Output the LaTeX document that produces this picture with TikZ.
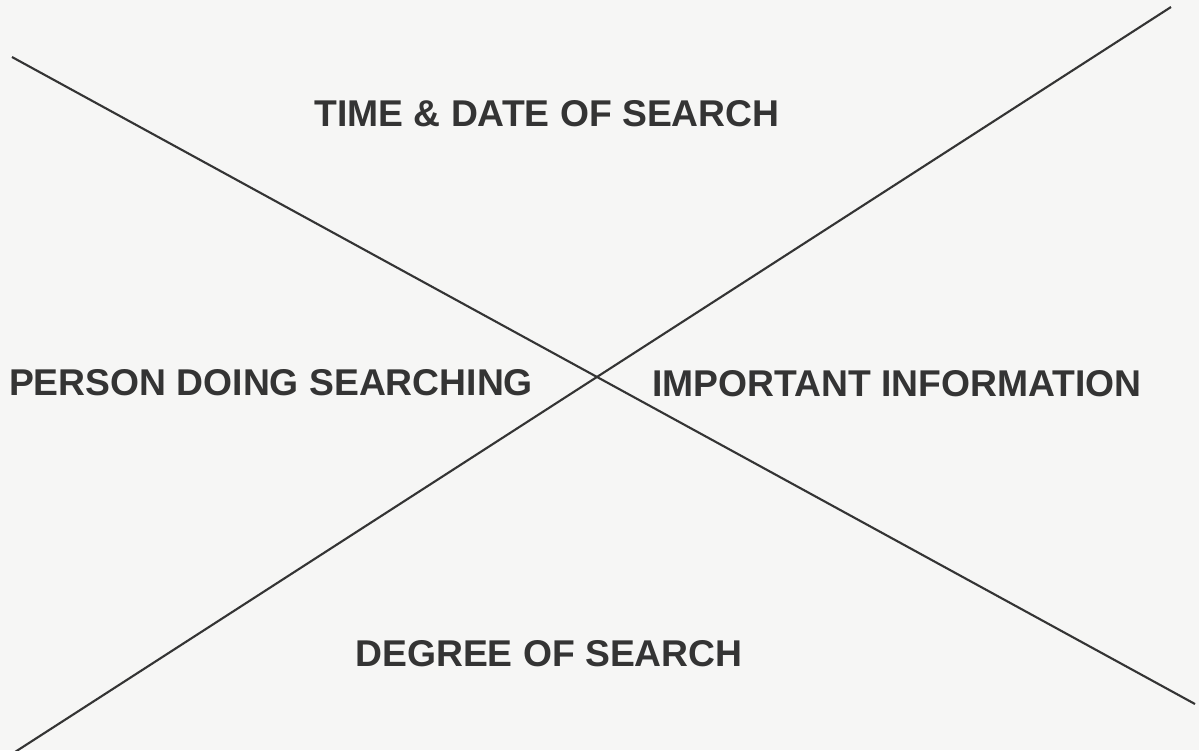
\documentclass[tikz,border=0pt]{standalone}
\usepackage{fontspec}
\setmainfont{Liberation Sans}
\usepackage{tikz}

\definecolor{paper}{RGB}{246,246,245}
\definecolor{ink}{RGB}{52,52,52}

\begin{document}
\begin{tikzpicture}[x=0.01cm,y=-0.01cm,
                    semithick]
  \tikzstyle{every node}=[inner sep=0pt,text=ink,font=\bfseries\fontsize{10.6}{12}\selectfont]
  \tikzstyle{cross}=[draw=ink,line width=0.6pt]

  \fill[paper] (0,0) rectangle (1199,750);
  \useasboundingbox (0,0) rectangle (1199,750);

  % ends of the two strokes
  \coordinate (nw) at (12,57);
  \coordinate (se) at (1195,704);
  \coordinate (sw) at (15,752);
  \coordinate (ne) at (1171,7);

  \node (time)   at (547,114) {TIME \& DATE OF SEARCH};
  \node (person) at (271,383) {PERSON DOING SEARCHING};
  \node (info)   at (897,384) {IMPORTANT INFORMATION};
  \node (degree) at (549,654) {DEGREE OF SEARCH};

  \path[cross] (nw) -- (se)
               (sw) -- (ne);

\end{tikzpicture}
\end{document}
